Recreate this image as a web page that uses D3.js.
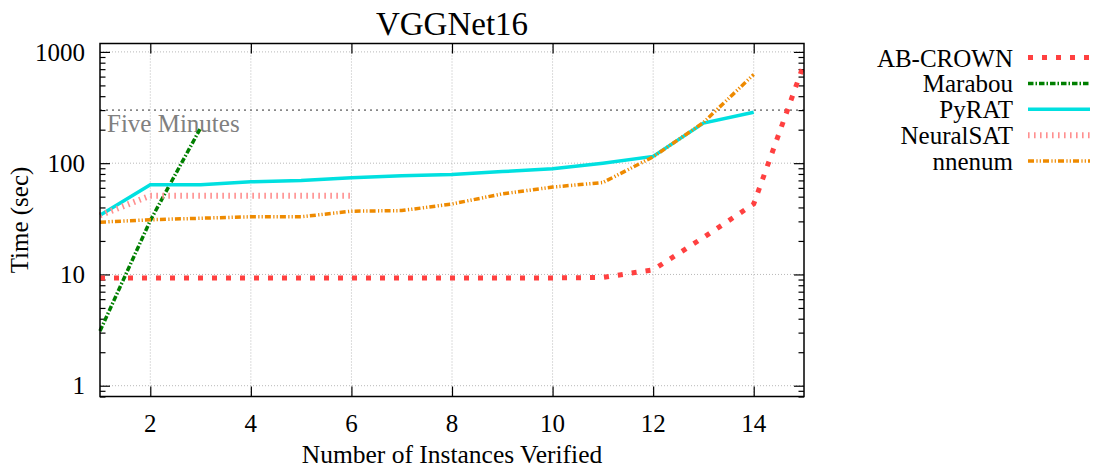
<!DOCTYPE html>
<html>
<head>
<meta charset="utf-8">
<script src="https://cdn.jsdelivr.net/npm/d3@7"></script>
<style>
  html, body { margin: 0; padding: 0; background: #fff; }
  svg { display: block; font-family: "Liberation Serif", "Times New Roman", serif; }
</style>
</head>
<body>
<div id="chart"></div>
<script>
// ---- data ----
const title = "VGGNet16";
const xLabel = "Number of Instances Verified";
const yLabel = "Time (sec)";
const xTicks = [2, 4, 6, 8, 10, 12, 14];
const yTicks = [1, 10, 100, 1000];
const fiveMinutes = 300;
const fiveMinutesLabel = "Five Minutes";

const seriesNames = ["AB-CROWN", "Marabou", "PyRAT", "NeuralSAT", "nnenum"];
const abcrown   = [9.3, 9.3, 9.3, 9.3, 9.3, 9.3, 9.3, 9.3, 9.3, 9.3, 9.4, 11, 21.5, 43, 780];
const marabou   = [3.1, 30.5, 207];
const pyrat     = [34, 64, 64, 68, 70, 74, 77, 79, 84, 89, 100, 115, 229, 287];
const neuralsat = [34, 51, 51, 51, 51, 51];
const nnenum    = [29.5, 31, 32, 33, 33, 37, 37.5, 43, 53, 61, 67, 114, 232, 627];

const seriesValues = [abcrown, marabou, pyrat, neuralsat, nnenum];
const styles = [
  { color: "#ff4040", width: 5,   dash: "5 9" },
  { color: "#007f00", width: 3.5, dash: "5.5 2 1.5 2" },
  { color: "#00e0e0", width: 3.5, dash: null },
  { color: "#ff8f8f", width: 6,   dash: "1.6 4.4" },
  { color: "#ee8a00", width: 3.5, dash: "6 2.4 1.2 2.1 1.2 2.1" }
];

// ---- layout ----
const W = 1096, H = 470;
const plot = { left: 100, right: 804, top: 43.5, bottom: 396.5 };

const svg = d3.select("#chart").append("svg").attr("width", W).attr("height", H);

const x = d3.scaleLinear().domain([1, 15]).range([plot.left, plot.right]);
const y = d3.scaleLog().domain([0.8, 1190]).range([plot.bottom, plot.top]);

// grid
const grid = svg.append("g");
grid.selectAll("line.gx").data(xTicks).join("line")
  .attr("x1", d => x(d)).attr("x2", d => x(d))
  .attr("y1", plot.top).attr("y2", plot.bottom)
  .attr("stroke", "#b8b8b8").attr("stroke-width", 1).attr("stroke-dasharray", "1 2");
grid.selectAll("line.gy").data(yTicks).join("line")
  .attr("x1", plot.left).attr("x2", plot.right)
  .attr("y1", d => y(d)).attr("y2", d => y(d))
  .attr("stroke", "#b8b8b8").attr("stroke-width", 1).attr("stroke-dasharray", "1 2");

// five minutes
svg.append("line")
  .attr("x1", plot.left).attr("x2", plot.right)
  .attr("y1", y(fiveMinutes)).attr("y2", y(fiveMinutes))
  .attr("stroke", "#888").attr("stroke-width", 1.6).attr("stroke-dasharray", "2 4");
svg.append("text").attr("x", plot.left + 7).attr("y", y(fiveMinutes) + 22)
  .attr("font-size", 25).attr("fill", "#808080").text(fiveMinutesLabel);

// axes with inward ticks (gnuplot style, mirrored)
const minorY = [];
[0.1, 1, 10, 100].forEach(b => { for (let k = 2; k <= 9; k++) { const v = b * k; if (v >= 0.8 && v <= 1190 && yTicks.indexOf(v) < 0) minorY.push(v); } });

const axLeft = d3.axisRight(y).tickValues(yTicks).tickFormat("").tickSizeInner(10).tickSizeOuter(0);
const axLeftMinor = d3.axisRight(y).tickValues(minorY).tickFormat("").tickSizeInner(5.5).tickSizeOuter(0);
const axRight = d3.axisLeft(y).tickValues(yTicks).tickFormat("").tickSizeInner(10).tickSizeOuter(0);
const axRightMinor = d3.axisLeft(y).tickValues(minorY).tickFormat("").tickSizeInner(5.5).tickSizeOuter(0);
const axBottom = d3.axisTop(x).tickValues(xTicks).tickFormat("").tickSizeInner(10).tickSizeOuter(0);
const axTop = d3.axisBottom(x).tickValues(xTicks).tickFormat("").tickSizeInner(10).tickSizeOuter(0);

function styleAxis(g) {
  g.select(".domain").remove();
  g.selectAll("line").attr("stroke", "#000").attr("stroke-width", 1.2);
}
svg.append("g").attr("transform", `translate(${plot.left},0)`).call(axLeft).call(styleAxis);
svg.append("g").attr("transform", `translate(${plot.left},0)`).call(axLeftMinor).call(styleAxis);
svg.append("g").attr("transform", `translate(${plot.right},0)`).call(axRight).call(styleAxis);
svg.append("g").attr("transform", `translate(${plot.right},0)`).call(axRightMinor).call(styleAxis);
svg.append("g").attr("transform", `translate(0,${plot.bottom})`).call(axBottom).call(styleAxis);
svg.append("g").attr("transform", `translate(0,${plot.top})`).call(axTop).call(styleAxis);

// tick labels
svg.append("g").selectAll("text").data(yTicks).join("text")
  .attr("x", plot.left - 15).attr("y", d => y(d)).attr("dy", "0.35em")
  .attr("text-anchor", "end").attr("font-size", 25).text(d => d);
svg.append("g").selectAll("text").data(xTicks).join("text")
  .attr("x", d => x(d)).attr("y", plot.bottom + 35)
  .attr("text-anchor", "middle").attr("font-size", 25).text(d => d);

// series
const line = d3.line().x(d => x(d[0])).y(d => y(d[1]));
const lineG = svg.append("g");
seriesValues.forEach((vals, i) => {
  const pts = vals.map((v, j) => [j + 1, v]);
  const s = styles[i];
  lineG.append("path").datum(pts).attr("d", line)
    .attr("fill", "none").attr("stroke", s.color).attr("stroke-width", s.width)
    .attr("stroke-dasharray", s.dash).attr("stroke-linejoin", "miter");
});

// border
svg.append("rect").attr("x", plot.left).attr("y", plot.top)
  .attr("width", plot.right - plot.left).attr("height", plot.bottom - plot.top)
  .attr("fill", "none").attr("stroke", "#000").attr("stroke-width", 1.5);

// title & axis labels
svg.append("text").attr("x", (plot.left + plot.right) / 2).attr("y", 35)
  .attr("text-anchor", "middle").attr("font-size", 33).text(title);
svg.append("text").attr("x", (plot.left + plot.right) / 2).attr("y", 463)
  .attr("text-anchor", "middle").attr("font-size", 25.5).text(xLabel);
svg.append("text").attr("transform", `translate(28,${(plot.top + plot.bottom) / 2}) rotate(-90)`)
  .attr("text-anchor", "middle").attr("font-size", 25).text(yLabel);

// legend
const legend = svg.append("g");
seriesNames.forEach((name, i) => {
  const by = 66.5 + i * 25.9;
  const s = styles[i];
  legend.append("text").attr("x", 1013).attr("y", by)
    .attr("text-anchor", "end").attr("font-size", 25).text(name);
  legend.append("line").attr("x1", 1028).attr("x2", 1090)
    .attr("y1", by - 9).attr("y2", by - 9)
    .attr("stroke", s.color).attr("stroke-width", s.width).attr("stroke-dasharray", s.dash);
});
</script>
</body>
</html>
